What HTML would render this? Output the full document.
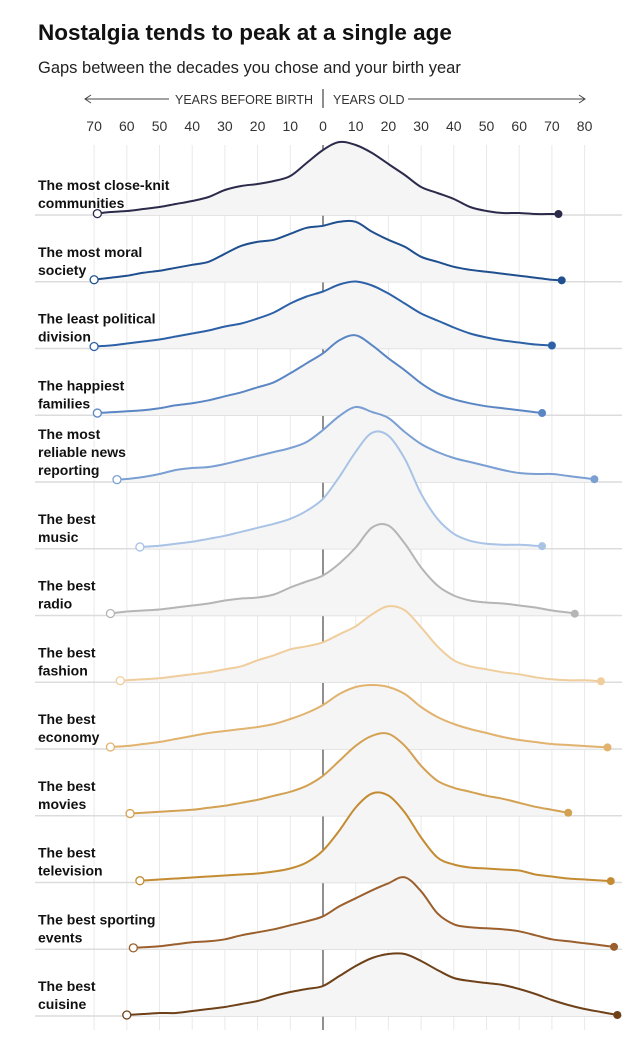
<!DOCTYPE html>
<html><head><meta charset="utf-8">
<style>
body{margin:0;background:#fff;width:644px;height:1043px;overflow:hidden;font-family:"Liberation Sans",sans-serif;}
svg{position:absolute;left:0;top:0}
</style></head>
<body>
<svg id="chart" width="644" height="1043">
<text x="38" y="40" font-size="22.5" font-weight="bold" fill="#111">Nostalgia tends to peak at a single age</text>
<text x="38" y="73" font-size="16.5" fill="#222">Gaps between the decades you chose and your birth year</text>
<g id="axis"></g>
<g id="grid"></g>
<g id="ridges"></g>
</svg>
<script>
const categories=[["The most close-knit","communities"],["The most moral","society"],["The least political","division"],["The happiest","families"],["The most","reliable news","reporting"],["The best","music"],["The best","radio"],["The best","fashion"],["The best","economy"],["The best","movies"],["The best","television"],["The best sporting","events"],["The best","cuisine"]];
const gridX=[-70,-65,-60,-55,-50,-45,-40,-35,-30,-25,-20,-15,-10,-5,0,5,10,15,20,25,30,35,40,45,50,55,60,65,70,75,80,85,90];
const sCloseKnit=[1,3,4,6,8,11,14,18,25,29,31,34,39,52,65,73,70,62,51,40,28,22,16,8,4,2,2,1,1,1,0,0,0];
const sMoral=[2,4,6,9,11,14,17,20,28,36,40,42,48,54,56,60,60,50,42,35,25,20,15,12,10,8,6,4,2,1,0,0,0];
const sPolitical=[2,3,5,7,9,12,15,18,22,25,30,36,45,52,57,64,67,63,55,45,35,28,21,15,11,8,6,4,3,0,0,0,0];
const sFamilies=[2,3,4,5,7,10,12,15,19,23,28,33,42,52,62,75,80,70,57,45,32,22,16,12,9,7,5,3,1,0,0,0,0];
const sNews=[0,2,3,5,8,12,14,15,18,22,26,30,34,40,52,66,75,70,64,50,38,30,24,20,16,12,9,8,8,6,4,2,0];
const sMusic=[0,0,1,2,3,5,7,10,13,17,21,25,30,38,50,72,97,116,113,90,55,30,15,8,5,4,4,3,2,0,0,0,0];
const sRadio=[0,2,4,5,6,8,10,12,15,17,18,21,28,34,40,52,68,88,90,72,48,30,20,15,13,12,10,8,5,3,0,0,0];
const sFashion=[0,1,2,3,4,6,8,10,13,16,22,27,33,36,40,48,56,68,76,72,55,36,22,16,13,10,8,5,3,2,2,1,0];
const sEconomy=[0,2,3,5,7,10,13,16,18,20,22,25,30,36,44,55,62,64,62,55,42,32,25,20,16,12,9,7,5,4,3,2,1];
const sMovies=[0,1,2,3,4,5,6,8,10,13,16,20,24,30,40,55,70,80,82,70,50,35,28,24,20,17,13,9,6,3,0,0,0];
const sTelevision=[0,1,1,2,3,4,5,6,7,8,9,11,14,20,32,52,75,89,87,70,45,25,18,15,14,13,12,8,6,4,3,2,1];
const sSporting=[0,1,1,2,3,5,7,8,10,14,17,20,24,28,33,43,51,59,66,72,58,36,25,22,21,20,18,14,10,8,6,4,2];
const sCuisine=[0,1,1,2,3,3,5,7,9,12,15,20,24,27,30,40,50,58,62,62,55,46,38,35,33,31,27,22,16,11,7,4,1];
const series=[sCloseKnit,sMoral,sPolitical,sFamilies,sNews,sMusic,sRadio,sFashion,sEconomy,sMovies,sTelevision,sSporting,sCuisine];
const startVals=[-69,-70,-70,-69,-63,-56,-65,-62,-65,-59,-56,-58,-60];
const endVals=[72,73,70,67,83,67,77,85,87,75,88,89,90];
const colors=["#2b2a4a","#1f4f8f","#2c61a8","#5b86c4","#7a9fd3","#a8c3e6","#b5b5b5","#f0cd9c","#e1b36f","#d3a152","#c48c32","#9a5f2c","#6e4118"];
const tickVals=[-70,-60,-50,-40,-30,-20,-10,0,10,20,30,40,50,60,70,80];
const tickLabels=["70","60","50","40","30","20","10","0","10","20","30","40","50","60","70","80"];

const NS="http://www.w3.org/2000/svg";
const X0=323,KX=3.27;
function xs(v){return X0+v*KX;}
const B0=215,DB=66.75;
function base(i){return B0+i*DB;}
function ys(i,h){return base(i)-h;}
function mk(tag,attrs,parent){const e=document.createElementNS(NS,tag);for(const k in attrs)e.setAttribute(k,attrs[k]);parent.appendChild(e);return e;}
function hAt(arr,v){
  if(v<=gridX[0])return arr[0];
  for(let k=0;k<gridX.length-1;k++){if(v<=gridX[k+1]){const t=(v-gridX[k])/(gridX[k+1]-gridX[k]);return arr[k]+(arr[k+1]-arr[k])*t;}}
  return arr[arr.length-1];
}
function smooth(pts){
  let d="M"+pts[0][0].toFixed(1)+","+pts[0][1].toFixed(1);
  for(let i=0;i<pts.length-1;i++){
    const p0=pts[i-1]||pts[i],p1=pts[i],p2=pts[i+1],p3=pts[i+2]||p2;
    const c1=[p1[0]+(p2[0]-p0[0])/6,p1[1]+(p2[1]-p0[1])/6];
    const c2=[p2[0]-(p3[0]-p1[0])/6,p2[1]-(p3[1]-p1[1])/6];
    d+="C"+c1[0].toFixed(1)+","+c1[1].toFixed(1)+" "+c2[0].toFixed(1)+","+c2[1].toFixed(1)+" "+p2[0].toFixed(1)+","+p2[1].toFixed(1);
  }
  return d;
}
const axis=document.getElementById('axis'),grid=document.getElementById('grid'),ridges=document.getElementById('ridges');
let t=mk('text',{x:175,y:104,'font-size':12.5,fill:'#333','text-anchor':'start'},axis);t.textContent="YEARS BEFORE BIRTH";

t=mk('text',{x:333,y:104,'font-size':12.5,fill:'#333'},axis);t.textContent="YEARS OLD";

mk('line',{x1:323,y1:89,x2:323,y2:108,stroke:'#444','stroke-width':1.2},axis);
mk('line',{x1:86,y1:99,x2:169,y2:99,stroke:'#444','stroke-width':1},axis);
mk('path',{d:'M91,95 L85,99 L91,103',fill:'none',stroke:'#444','stroke-width':1},axis);
mk('line',{x1:408,y1:99,x2:585,y2:99,stroke:'#444','stroke-width':1},axis);
mk('path',{d:'M579,95 L585,99 L579,103',fill:'none',stroke:'#444','stroke-width':1},axis);
tickVals.forEach((v,i)=>{
  const l=mk('text',{x:xs(v),y:131,'font-size':14,fill:'#333','text-anchor':'middle'},axis);l.textContent=tickLabels[i];
  
  
  const g=mk('line',{x1:xs(v),y1:145,x2:xs(v),y2:1030,stroke:v===0?'#555':'#e9e9e9','stroke-width':v===0?1.3:1},grid);
  
  
});
series.forEach((arr,i)=>{
  const g=mk('g',{},ridges);
  
  
  const s=startVals[i],e=endVals[i];
  const pts=[[xs(s),ys(i,hAt(arr,s))]];
  gridX.forEach(v=>{if(v>s+1&&v<e-1)pts.push([xs(v),ys(i,hAt(arr,v))]);});
  pts.push([xs(e),ys(i,hAt(arr,e))]);
  const d=smooth(pts);
  mk('line',{x1:35,y1:base(i),x2:622,y2:base(i),stroke:'#dcdcdc','stroke-width':1.5},g);
  const area=mk('path',{d:d+"L"+xs(e).toFixed(1)+","+base(i)+"L"+xs(s).toFixed(1)+","+base(i)+"Z",fill:'#f5f5f5',stroke:'none'},g);
  
  
  const lab=categories[i];
  const lh=18;
  const lg=mk('g',{},g);
  
  
  lab.forEach((ln,k)=>{
    const tt=mk('text',{x:38,y:base(i)-7-(lab.length-1-k)*lh,'font-size':14,'font-weight':'bold',fill:'#111',stroke:'#fff','stroke-width':4,'paint-order':'stroke'},lg);
    tt.textContent=ln;
  });
  const line=mk('path',{d:d,fill:'none',stroke:colors[i],'stroke-width':2},g);
  
  
  const c1=mk('circle',{cx:xs(s),cy:ys(i,hAt(arr,s)),r:4,fill:'#fff',stroke:colors[i],'stroke-width':1.3},g);
  
  
  const c2=mk('circle',{cx:xs(e),cy:ys(i,hAt(arr,e)),r:4,fill:colors[i]},g);
  
  
});
</script>
</body></html>
